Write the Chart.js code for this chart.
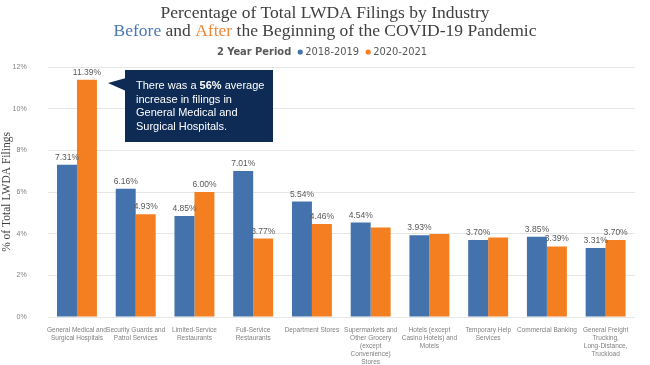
<!DOCTYPE html>
<html>
<head>
<meta charset="utf-8">
<script src="https://cdn.jsdelivr.net/npm/chart.js@4.4.1/dist/chart.umd.min.js"></script>
<style>
  html, body { margin: 0; padding: 0; background: #fff; }
  #wrap { position: relative; width: 650px; height: 365px; }
</style>
</head>
<body>
<div id="wrap"><canvas id="lwda-chart" width="650" height="365"></canvas></div>
<script>
// categories (x axis labels, split into lines)
const industries = [
  ['General Medical and', 'Surgical Hospitals'],
  ['Security Guards and', 'Patrol Services'],
  ['Limited-Service', 'Restaurants'],
  ['Full-Service', 'Restaurants'],
  ['Department Stores'],
  ['Supermarkets and', 'Other Grocery', '(except', 'Convenience)', 'Stores'],
  ['Hotels (except', 'Casino Hotels) and', 'Motels'],
  ['Temporary Help', 'Services'],
  ['Commercial Banking'],
  ['General Freight', 'Trucking,', 'Long-Distance,', 'Truckload']
];

const seriesNames = ['2018-2019', '2020-2021'];

// % of total filings
const before = [7.31, 6.16, 4.85, 7.01, 5.54, 4.54, 3.93, 3.70, 3.85, 3.31];
const after = [11.39, 4.93, 6.00, 3.77, 4.46, 4.30, 3.98, 3.82, 3.39, 3.70];

// data labels shown in the picture (null = no label)
const beforeLabels = ['7.31%', '6.16%', '4.85%', '7.01%', '5.54%', '4.54%', '3.93%', '3.70%', '3.85%', '3.31%'];
const afterLabels = ['11.39%', '4.93%', '6.00%', '3.77%', '4.46%', null, null, null, '3.39%', '3.70%'];

const yTicks = [0, 2, 4, 6, 8, 10, 12];

const BLUE = '#4472ac';
const ORANGE = '#f47f20';

// header: title, subtitle with coloured words, legend
const headerPlugin = {
  id: 'header',
  afterDraw(chart) {
    const ctx = chart.ctx;
    const cx = chart.width / 2;
    ctx.save();
    ctx.textBaseline = 'middle';
    ctx.font = '17.5px "Liberation Serif", "DejaVu Serif", serif';
    ctx.fillStyle = '#404040';
    ctx.textAlign = 'center';
    ctx.fillText('Percentage of Total LWDA Filings by Industry', cx, 13);

    const parts = [
      ['Before', '#4a78b4'],
      [' and ', '#404040'],
      ['After', '#f0883a'],
      [' the Beginning of the COVID-19 Pandemic', '#404040']
    ];
    let total = 0;
    parts.forEach(p => total += ctx.measureText(p[0]).width);
    let x = cx - total / 2;
    ctx.textAlign = 'left';
    parts.forEach(p => {
      ctx.fillStyle = p[1];
      ctx.fillText(p[0], x, 31);
      x += ctx.measureText(p[0]).width;
    });

    // legend row
    const y = 52;
    ctx.font = 'bold 11px "DejaVu Sans Condensed", "DejaVu Sans", sans-serif';
    const lt = '2 Year Period';
    const items = [[seriesNames[0], BLUE], [seriesNames[1], ORANGE]];
    let w = ctx.measureText(lt).width + 6;
    ctx.font = '11px "DejaVu Sans Condensed", "DejaVu Sans", sans-serif';
    items.forEach(it => w += 8 + ctx.measureText(it[0]).width + 6);
    x = cx - w / 2;
    ctx.font = 'bold 11px "DejaVu Sans Condensed", "DejaVu Sans", sans-serif';
    ctx.fillStyle = '#595959';
    ctx.fillText(lt, x, y);
    x += ctx.measureText(lt).width + 6;
    ctx.font = '11px "DejaVu Sans Condensed", "DejaVu Sans", sans-serif';
    items.forEach(it => {
      ctx.fillStyle = it[1];
      ctx.beginPath();
      ctx.arc(x + 3, y, 2.6, 0, Math.PI * 2);
      ctx.fill();
      x += 8;
      ctx.fillStyle = '#595959';
      ctx.fillText(it[0], x, y);
      x += ctx.measureText(it[0]).width + 6;
    });
    ctx.restore();
  }
};

// value labels above bars
const valueLabels = {
  id: 'valueLabels',
  afterDatasetsDraw(chart) {
    const ctx = chart.ctx;
    const sets = [beforeLabels, afterLabels];
    ctx.save();
    ctx.font = '8.5px "Liberation Sans", Arial, sans-serif';
    ctx.fillStyle = '#595959';
    ctx.textAlign = 'center';
    ctx.textBaseline = 'bottom';
    sets.forEach((labels, di) => {
      chart.getDatasetMeta(di).data.forEach((bar, i) => {
        if (labels[i]) ctx.fillText(labels[i], bar.x, bar.y - 3);
      });
    });
    ctx.restore();
  }
};

// dark callout box
const callout = {
  id: 'callout',
  afterDraw(chart) {
    const ctx = chart.ctx;
    const bx = 125, by = 70, bw = 148, bh = 72;
    ctx.save();
    ctx.fillStyle = '#0d2b55';
    ctx.beginPath();
    ctx.rect(bx, by, bw, bh);
    ctx.fill();
    ctx.beginPath();
    ctx.moveTo(bx + 1, by + 8);
    ctx.lineTo(108, by + 13);
    ctx.lineTo(bx + 1, by + 21);
    ctx.closePath();
    ctx.fill();

    ctx.fillStyle = '#ffffff';
    ctx.textBaseline = 'middle';
    ctx.textAlign = 'left';
    const tx = 136;
    const reg = '11px "Liberation Sans", Arial, sans-serif';
    const bold = 'bold 11px "Liberation Sans", Arial, sans-serif';
    let x = tx;
    [['There was a ', reg], ['56%', bold], [' average', reg]].forEach(p => {
      ctx.font = p[1];
      ctx.fillText(p[0], x, 86);
      x += ctx.measureText(p[0]).width;
    });
    ctx.font = reg;
    ctx.fillText('increase in filings in', tx, 99.5);
    ctx.fillText('General Medical and', tx, 113);
    ctx.fillText('Surgical Hospitals.', tx, 126.5);
    ctx.restore();
  }
};

const ctx = document.getElementById('lwda-chart').getContext('2d');
new Chart(ctx, {
  type: 'bar',
  data: {
    labels: industries,
    datasets: [
      { label: seriesNames[0], data: before, backgroundColor: BLUE },
      { label: seriesNames[1], data: after, backgroundColor: ORANGE }
    ]
  },
  options: {
    responsive: false,
    animation: false,
    layout: { padding: { left: 0, right: 15, top: 67, bottom: 0 } },
    datasets: { bar: { categoryPercentage: 0.68, barPercentage: 1.0 } },
    plugins: {
      legend: { display: false },
      title: { display: false },
      tooltip: { enabled: false }
    },
    scales: {
      x: {
        grid: { display: false },
        border: { display: false },
        ticks: {
          maxRotation: 0,
          autoSkip: false,
          padding: 1,
          color: '#7f7f7f',
          font: { family: '"Liberation Sans", Arial, sans-serif', size: 6.5, lineHeight: 1.25 }
        },
        afterFit: s => { s.height = 48; }
      },
      y: {
        min: 0,
        max: 12,
        afterBuildTicks: s => { s.ticks = yTicks.map(v => ({ value: v })); },
        grid: { color: '#e6e6e6', drawTicks: false },
        border: { display: false },
        ticks: {
          padding: 21,
          color: '#7f7f7f',
          font: { family: '"Liberation Sans", Arial, sans-serif', size: 7 },
          callback: v => v + '%'
        },
        title: {
          display: true,
          text: '% of Total LWDA Filings',
          color: '#404040',
          padding: { top: 0, bottom: 0 },
          font: { family: '"Liberation Serif", "DejaVu Serif", serif', size: 11.5 }
        },
        afterFit: s => { s.width = 47.6; }
      }
    }
  },
  plugins: [headerPlugin, valueLabels, callout]
});
</script>
</body>
</html>
